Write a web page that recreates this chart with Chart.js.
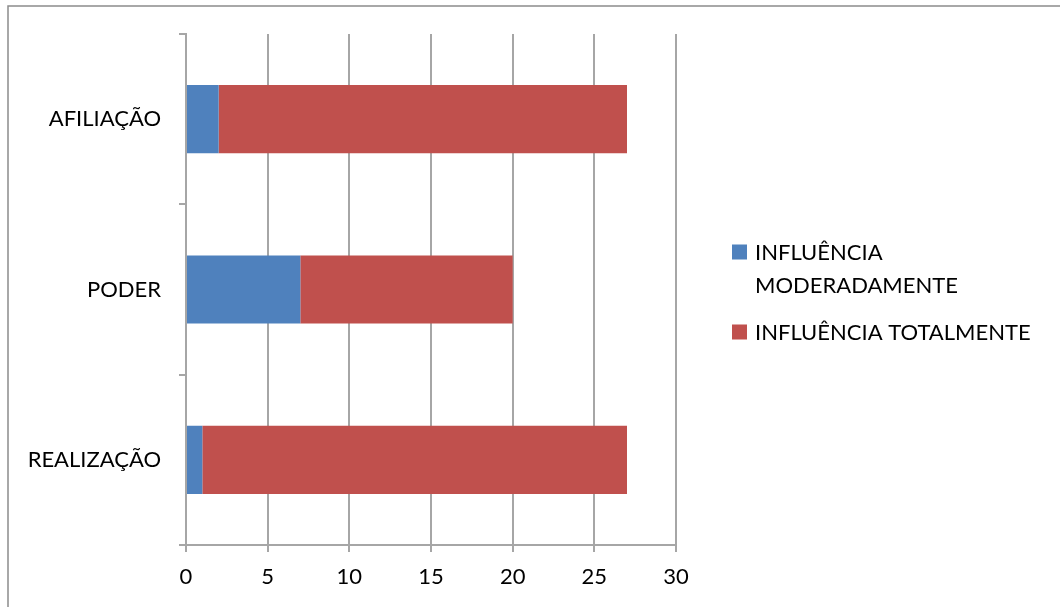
<!DOCTYPE html>
<html>
<head>
<meta charset="utf-8">
<script src="https://cdn.jsdelivr.net/npm/chart.js@4/dist/chart.umd.min.js"></script>
<style>
  html, body { margin: 0; padding: 0; background: #ffffff; }
  #wrap { width: 1060px; height: 607px; position: relative; }
</style>
</head>
<body>
<div id="wrap"><canvas id="chart"></canvas></div>
<script>
const categories = ['AFILIAÇÃO', 'PODER', 'REALIZAÇÃO'];
const moderadamente = [2, 7, 1];
const totalmente = [25, 13, 26];
const seriesNames = [['INFLUÊNCIA', 'MODERADAMENTE'], ['INFLUÊNCIA TOTALMENTE']];
const xTicks = [0, 5, 10, 15, 20, 25, 30];

const FONT = 'Lato, "Liberation Sans", sans-serif';
const GRID = '#a6a6a6';
const colors = ['#4f81bd', '#c0504d'];

// outer frame and the right-hand legend
const framePlugin = {
  id: 'frameAndLegend',
  afterDraw(chart) {
    const ctx = chart.ctx;
    ctx.save();
    ctx.strokeStyle = '#8c8c8c';
    ctx.lineWidth = 1.5;
    ctx.strokeRect(8, 6, 1100, 700);

    ctx.font = '22px ' + FONT;
    ctx.textBaseline = 'middle';
    ctx.textAlign = 'left';
    const boxX = 732, textX = 755, box = 15, lineH = 33;
    let y = 252;
    chart.data.datasets.forEach((ds, i) => {
      ctx.fillStyle = ds.backgroundColor;
      ctx.fillRect(boxX, y - box / 2, box, box);
      ctx.fillStyle = '#000000';
      const lines = seriesNames[i];
      lines.forEach((t, k) => ctx.fillText(t, textX, y + 1 + k * lineH));
      y += lines.length * lineH + 14;
    });
    ctx.restore();
  }
};

new Chart(document.getElementById('chart'), {
  type: 'bar',
  data: {
    labels: categories,
    datasets: [
      { label: seriesNames[0].join(' '), data: moderadamente, backgroundColor: colors[0] },
      { label: seriesNames[1].join(' '), data: totalmente, backgroundColor: colors[1] }
    ]
  },
  options: {
    indexAxis: 'y',
    responsive: true,
    maintainAspectRatio: false,
    animation: false,
    layout: { padding: { left: 0, top: 34, right: 384, bottom: 0 } },
    datasets: { bar: { categoryPercentage: 0.8, barPercentage: 0.5 } },
    plugins: { legend: { display: false }, tooltip: { enabled: false } },
    scales: {
      x: {
        stacked: true,
        min: 0,
        max: 30,
        afterFit(scale) { scale.height = 62; },
        afterBuildTicks(scale) { scale.ticks = xTicks.map(v => ({ value: v })); },
        grid: { color: GRID, lineWidth: 2, drawTicks: true, tickLength: 7, tickColor: GRID },
        border: { color: GRID, width: 2 },
        ticks: { color: '#000000', font: { family: FONT, size: 22 }, padding: 12, maxRotation: 0 }
      },
      y: {
        stacked: true,
        afterFit(scale) { scale.width = 186; },
        grid: { drawOnChartArea: false, drawTicks: true, tickLength: 7, color: GRID, lineWidth: 2, offset: true },
        border: { color: GRID, width: 2 },
        ticks: { color: '#000000', font: { family: FONT, size: 22 }, padding: 18 }
      }
    }
  },
  plugins: [framePlugin]
});
</script>
</body>
</html>
